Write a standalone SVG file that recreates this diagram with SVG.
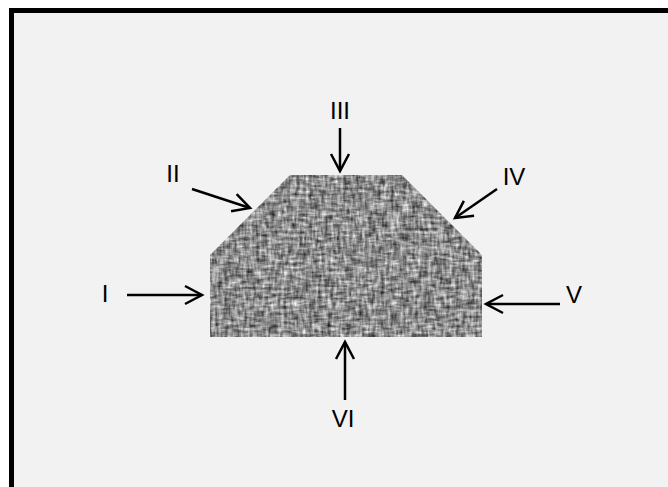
<svg xmlns="http://www.w3.org/2000/svg" width="668" height="487" viewBox="0 0 668 487">
  <style>
    .lbl { font-family: "Liberation Sans", Arial, sans-serif; font-size: 24px; fill: #000; text-anchor: middle; }
    .arr { stroke: #000; stroke-width: 2.5; fill: none; marker-end: url(#head); }
  </style>
  <defs>
    <marker id="head" markerUnits="userSpaceOnUse" markerWidth="22" markerHeight="22" viewBox="0 0 22 22" refX="19" refY="11" orient="auto">
      <path d="M2,2 L19,11 L2,20" fill="none" stroke="#000" stroke-width="2.5"/>
    </marker>
    <filter id="burlap" x="0" y="0" width="1" height="1" color-interpolation-filters="sRGB">
      <feTurbulence type="fractalNoise" baseFrequency="0.32 0.09" numOctaves="2" seed="3" result="h"/>
      <feTurbulence type="fractalNoise" baseFrequency="0.09 0.32" numOctaves="2" seed="11" result="v"/>
      <feComposite in="h" in2="v" operator="arithmetic" k2="0.5" k3="0.5" result="n"/>
      <feGaussianBlur in="n" stdDeviation="0.5" result="nb"/>
      <feColorMatrix in="nb" type="matrix" values="1.4 0 0 0 -0.15  1.4 0 0 0 -0.15  1.4 0 0 0 -0.15  0 0 0 0 1" result="g"/>
      <feComposite in="g" in2="SourceGraphic" operator="in"/>
    </filter>
  </defs>
  <rect x="0" y="0" width="668" height="487" fill="#ffffff"/>
  <rect id="frame" x="11.5" y="10.5" width="700" height="520" fill="#f2f2f2" stroke="#000" stroke-width="5"/>
  <g id="shape">
    <polygon points="290,175 402,175 482,255 482,337 210,337 210,255" fill="#8a8a8a" filter="url(#burlap)"/>
  </g>
  <g id="connectors">
    <line class="arr" x1="127" y1="295" x2="202" y2="295"/>
    <line class="arr" x1="192" y1="189" x2="250" y2="208"/>
    <line class="arr" x1="340" y1="128" x2="340" y2="171"/>
    <line class="arr" x1="497" y1="189" x2="455" y2="218"/>
    <line class="arr" x1="560" y1="304" x2="486" y2="304"/>
    <line class="arr" x1="345" y1="400" x2="345" y2="342"/>
  </g>
  <g id="label-I"><text class="lbl" x="105" y="302">I</text></g>
  <g id="label-II"><text class="lbl" x="173" y="182">II</text></g>
  <g id="label-III"><text class="lbl" x="340" y="119">III</text></g>
  <g id="label-IV"><text class="lbl" x="514" y="185">IV</text></g>
  <g id="label-V"><text class="lbl" x="574" y="303">V</text></g>
  <g id="label-VI"><text class="lbl" x="343" y="427">VI</text></g>
</svg>
